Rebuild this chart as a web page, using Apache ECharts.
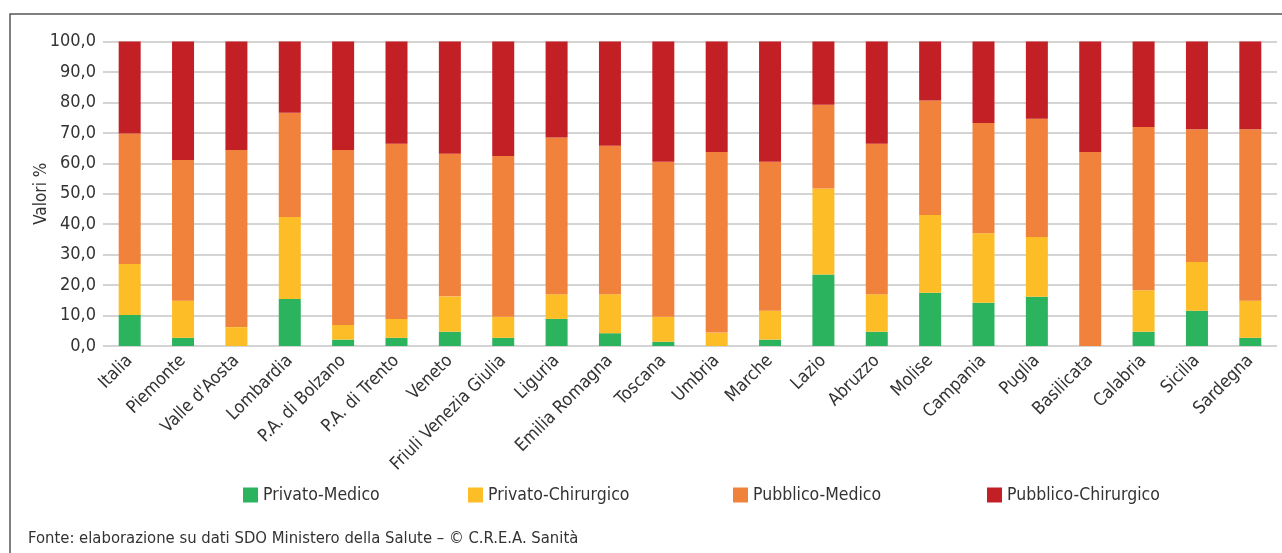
<!DOCTYPE html>
<html>
<head>
<meta charset="utf-8">
<script src="https://cdn.jsdelivr.net/npm/echarts@6/dist/echarts.min.js"></script>
<style>
html,body{margin:0;padding:0;background:#fff;}
#chart{width:1282px;height:553px;}
</style>
</head>
<body>
<div id="chart"></div>
<script>
const categories = ["Italia","Piemonte","Valle d'Aosta","Lombardia","P.A. di Bolzano","P.A. di Trento","Veneto","Friuli Venezia Giulia","Liguria","Emilia Romagna","Toscana","Umbria","Marche","Lazio","Abruzzo","Molise","Campania","Puglia","Basilicata","Calabria","Sicilia","Sardegna"];
const privatoMedico      = [10.2, 2.7, 0.0, 15.4, 2.1, 2.7, 4.7, 2.7, 8.9, 4.2, 1.4, 0.0, 2.1, 23.5, 4.7, 17.5, 14.2, 16.2, 0.0, 4.7, 11.6, 2.7];
const privatoChirurgico  = [16.7, 12.2, 6.2, 27.0, 4.8, 6.2, 11.6, 6.9, 8.1, 12.8, 8.2, 4.4, 9.5, 28.2, 12.3, 25.5, 22.8, 19.6, 0.0, 13.6, 16.0, 12.2];
const pubblicoMedico     = [42.9, 46.2, 58.2, 34.2, 57.5, 57.5, 46.8, 52.8, 51.5, 48.8, 50.9, 59.3, 48.9, 27.5, 49.4, 37.6, 36.2, 38.8, 63.7, 53.6, 43.6, 56.3];
const pubblicoChirurgico = [30.2, 38.9, 35.6, 23.4, 35.6, 33.6, 36.9, 37.6, 31.5, 34.2, 39.5, 36.3, 39.5, 20.8, 33.6, 19.4, 26.8, 25.4, 36.3, 28.1, 28.8, 28.8];
const seriesNames = ["Privato-Medico","Privato-Chirurgico","Pubblico-Medico","Pubblico-Chirurgico"];
const yTicks = [0,10,20,30,40,50,60,70,80,90,100];

const FONT = "'DejaVu Sans Condensed','Liberation Sans Narrow',sans-serif";
const colors = ['#2bb35e','#fdbd26','#f1823c','#c32026'];
const dataSets = [privatoMedico, privatoChirurgico, pubblicoMedico, pubblicoChirurgico];

const chart = echarts.init(document.getElementById('chart'));
const legendLefts = [238, 463, 728, 982];
chart.setOption({
  animation:false,
  textStyle:{fontFamily:FONT},
  graphic:[{type:'rect',shape:{x:10,y:14,width:1300,height:600},style:{fill:'none',stroke:'#555',lineWidth:1.5},silent:true},
    {type:'text',left:28,top:530,style:{text:'Fonte: elaborazione su dati SDO Ministero della Salute \u2013 \u00a9 C.R.E.A. Sanit\u00e0',font:"16.5px "+FONT,fill:'#333'}}],
  legend: seriesNames.map((n,i)=>({
    data:[n], left:legendLefts[i], top:481, itemWidth:15, itemHeight:15, itemGap:8,
    icon:'rect', textStyle:{fontSize:17.5,color:'#333',fontFamily:FONT}
  })),
  grid:{left:103,right:5,top:41.5,bottom:207},
  xAxis:{type:'category',data:categories,
    axisLine:{show:false},axisTick:{show:false},
    axisLabel:{rotate:45,interval:0,fontSize:17.7,color:'#333',margin:12,fontFamily:FONT}},
  yAxis:{type:'value',min:0,max:100,interval:10,name:'Valori %',nameLocation:'middle',nameGap:53,nameMoveOverlap:false,
    nameTextStyle:{fontSize:17,color:'#333',fontFamily:FONT},
    axisLine:{show:false},axisTick:{show:false},
    splitLine:{lineStyle:{color:'#d4d4d4',width:2}},
    axisLabel:{fontSize:18,color:'#333',margin:7,fontFamily:FONT,formatter:v=>v.toFixed(1).replace('.',',')}},
  series: seriesNames.map((n,i)=>({
    name:n,type:'bar',stack:'tot',barWidth:22,data:dataSets[i],
    itemStyle:{color:colors[i]}
  }))
});
</script>
</body>
</html>
